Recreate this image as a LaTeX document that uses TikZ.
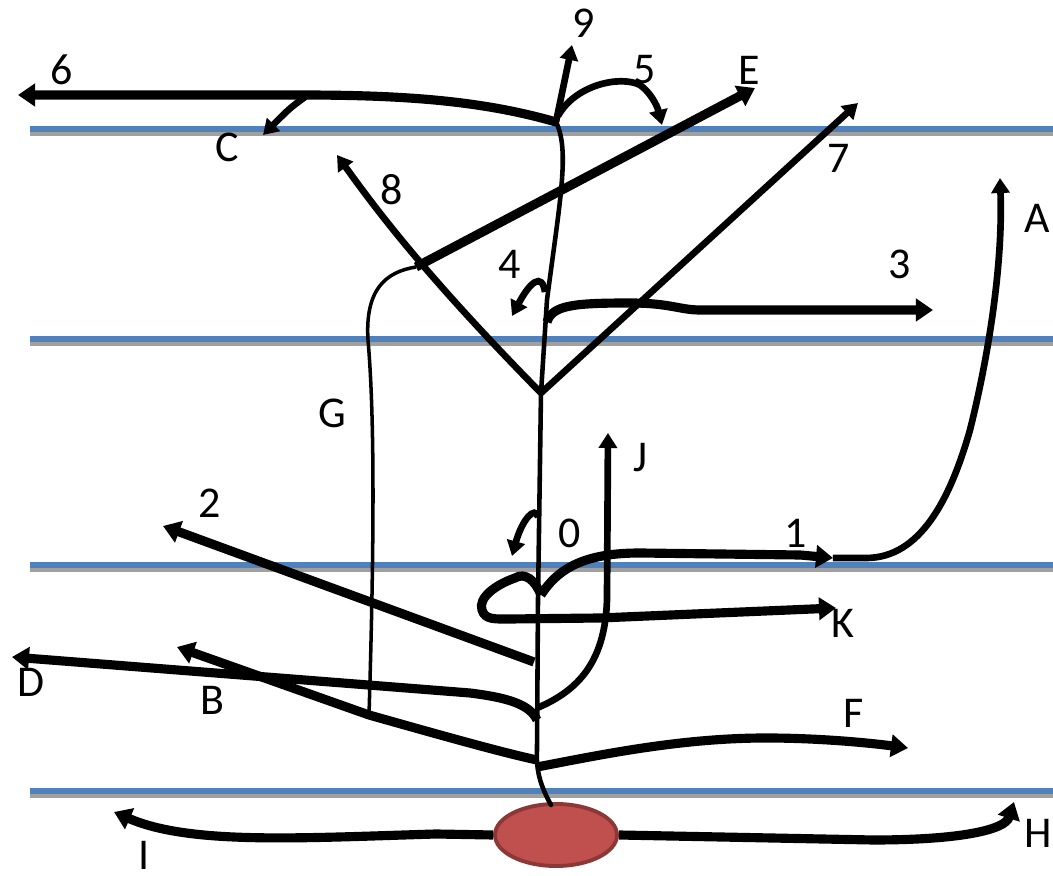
\documentclass[tikz,border=0pt]{standalone}
\usepackage{fontspec}
\setmainfont{Carlito}
\usetikzlibrary{arrows.meta,shapes.geometric}
\definecolor{laneblue}{HTML}{4F81BD}
\definecolor{lanegray}{HTML}{A0A0A0}
\definecolor{seedred}{HTML}{C0504D}
\definecolor{seededge}{HTML}{8C3836}
\tikzset{
  lane/.style={line width=1.6pt, laneblue},
  laneshadow/.style={line width=1.5pt, lanegray},
  stem/.style={line width=1.3pt, line cap=round},
  thinline/.style={line width=1pt},
  thickarrow/.style={line width=2.6pt, -{Triangle[length=0.17cm,width=0.22cm]}},
  midarrow/.style={line width=1.9pt, -{Triangle[length=0.15cm,width=0.18cm]}},
  lbl/.style={font=\fontsize{12.5}{15}\selectfont, inner sep=0pt},
  seed/.style={ellipse, draw=seededge, line width=1.1pt, fill=seedred,
    minimum width=1.22cm, minimum height=0.62cm, inner sep=0pt}
}
\begin{document}
\begin{tikzpicture}[x=0.01cm, y=-0.01cm]
    \useasboundingbox (0,0) rectangle (1053,876);

    % Schichten
    \foreach \y in {129,339,565,791} {
      \draw[laneshadow] (30,\y+4.5) -- (1053,\y+4.5);
      \draw[lane] (30,\y) -- (1053,\y);
    }

    % Samen
    \node[seed] (seed) at (556,835) {};

    % Punkte am Stamm
    \coordinate (root) at (551,805);
    \coordinate (fork) at (541,393);
    \coordinate (top) at (556,122);
    \coordinate (s3) at (547,322);
    \coordinate (s4) at (545,292);
    \coordinate (s0) at (538,517);
    \coordinate (s1) at (541,595);
    \coordinate (s2) at (534,662);
    \coordinate (sJ) at (537,708);
    \coordinate (sD) at (537,720);
    \coordinate (sB) at (537,760);
    \coordinate (sF) at (537,767);
    \coordinate (sC) at (305,97);
    \coordinate (gbase) at (369,715);
    \coordinate (gjoin) at (416,267);
    \coordinate (bend1) at (833,558);

    % Spitzen
    \coordinate (t6) at (18,95);
    \coordinate (t9) at (572,45);
    \coordinate (t5) at (662,125);
    \coordinate (tE) at (755,88);
    \coordinate (tC) at (263,135);
    \coordinate (t8) at (337,155);
    \coordinate (t7) at (858,103);
    \coordinate (tA) at (1000,178);
    \coordinate (t4) at (512,316);
    \coordinate (t3) at (933,310);
    \coordinate (tJ) at (608,433);
    \coordinate (t2) at (163,526);
    \coordinate (t0) at (512,556);
    \coordinate (tK) at (836,608);
    \coordinate (tD) at (12,657);
    \coordinate (tB) at (177,647);
    \coordinate (tF) at (908,748);
    \coordinate (tI) at (114,812);
    \coordinate (tH) at (1014,802);

    % Stamm
    \draw[stem] (root) .. controls (540,785) and (536,770) .. (537,750)
      -- (538,600) -- (fork) -- (547,300) .. controls (560,200) and (570,150) .. (top);

    % oben
    \draw[thickarrow] (top) .. controls (480,100) and (400,95) .. (300,95) -- (t6);
    \draw[midarrow] (sC) .. controls (290,108) .. (tC);
    \draw[midarrow] (top) -- (t9);
    \draw[midarrow] (558,116) .. controls (575,85) and (620,75) .. (640,85)
      .. controls (650,92) and (657,105) .. (t5);
    \draw[thickarrow] (gjoin) -- (tE);
    \draw[thinline] (gbase) .. controls (374,550) and (375,420) .. (368,340)
      .. controls (365,290) and (385,272) .. (gjoin);
    \draw[midarrow] (fork) .. controls (430,280) and (380,215) .. (t8);
    \draw[midarrow] (fork) -- (t7);
    \draw[thickarrow] (s3) .. controls (552,305) and (575,303) .. (630,303)
      .. controls (670,303) and (680,310) .. (700,310) -- (t3);
    \draw[midarrow] (s4) .. controls (542,272) and (530,282) .. (t4);

    % Mitte
    \draw[midarrow] (s0) .. controls (535,505) and (522,520) .. (t0);
    \draw[thickarrow] (s1) .. controls (560,565) and (590,553) .. (640,553) -- (800,555) -- (bend1);
    \draw[midarrow] (bend1) -- (866,558) .. controls (920,558) and (950,500) .. (970,430)
      .. controls (990,350) and (1003,260) .. (tA);
    \draw[thickarrow] (s1) .. controls (535,580) and (525,572) .. (515,578)
      .. controls (495,585) and (478,598) .. (482,610)
      .. controls (485,620) and (495,619) .. (510,619) -- (600,618) -- (tK);
    \draw[midarrow] (sJ) .. controls (580,690) and (605,660) .. (607,600) -- (tJ);
    \draw[thickarrow] (s2) -- (t2);

    % unten
    \draw[thickarrow] (sD) .. controls (530,705) and (510,698) .. (470,693) -- (tD);
    \draw[thickarrow] (sB) .. controls (500,752) and (440,735) .. (gbase) -- (tB);
    \draw[thickarrow] (sF) .. controls (600,755) and (680,738) .. (766,738)
      .. controls (820,738) and (870,743) .. (tF);
    \draw[thickarrow] (seed.west) -- (436,834) .. controls (300,838) and (190,845) .. (tI);
    \draw[thickarrow] (seed.east) -- (873,840) .. controls (960,840) and (1005,830) .. (tH);

    % Beschriftung
    \node[lbl] (l6) at (62,70) {6};
    \node[lbl] (l9) at (584,23) {9};
    \node[lbl] (l5) at (645,70) {5};
    \node[lbl] (lE) at (749,70) {E};
    \node[lbl] (lC) at (227,147) {C};
    \node[lbl] (l8) at (392,190) {8};
    \node[lbl] (l7) at (839,158) {7};
    \node[lbl] (lA) at (1037,218) {A};
    \node[lbl] (l4) at (510,264) {4};
    \node[lbl] (l3) at (900,264) {3};
    \node[lbl] (lG) at (332,413) {G};
    \node[lbl] (lJ) at (641,458) {J};
    \node[lbl] (l2) at (210,503) {2};
    \node[lbl] (l0) at (570,533) {0};
    \node[lbl] (l1) at (796,533) {1};
    \node[lbl] (lK) at (843,623) {K};
    \node[lbl] (lD) at (31,682) {D};
    \node[lbl] (lB) at (212,700) {B};
    \node[lbl] (lF) at (854,713) {F};
    \node[lbl] (lH) at (1038,833) {H};
    \node[lbl] (lI) at (144,855) {I};
\end{tikzpicture}
\end{document}
